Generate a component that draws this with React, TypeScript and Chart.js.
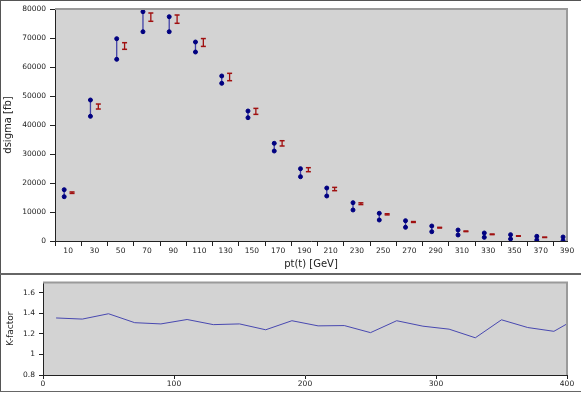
import React, { useEffect, useRef } from 'react';
import { Chart, registerables } from 'chart.js';

Chart.register(...registerables);

// ---- data ----
const ptBins = [10, 30, 50, 70, 90, 110, 130, 150, 170, 190, 210, 230, 250, 270, 290, 310, 330, 350, 370, 390];
const sigmaUpper = [17690, 48620, 69760, 79070, 77340, 68620, 56900, 44830, 33690, 24930, 18270, 13210, 9550, 7000, 5170, 3790, 2760, 2180, 1620, 1380];
const sigmaLower = [15280, 43000, 62650, 72170, 72170, 65170, 54370, 42520, 31030, 22170, 15520, 10690, 7240, 4720, 3210, 2070, 1260, 690, 340, 100];
const nloCentral = [16660, 46370, 67240, 77190, 76500, 68450, 56550, 44700, 33670, 24590, 17920, 12860, 9200, 6550, 4590, 3340, 2300, 1720, 1270, 900];
const nloError = [250, 860, 1140, 1430, 1430, 1350, 1270, 1030, 910, 690, 570, 300, 200, 150, 120, 100, 100, 80, 60, 50];
const xTickLabels = ['10', '30', '50', '70', '90', '110', '130', '150', '170', '190', '210', '230', '250', '270', '290', '310', '330', '350', '370', '390'];
const yTicksTop = [0, 10000, 20000, 30000, 40000, 50000, 60000, 70000, 80000];

const kPt = [10, 30, 50, 70, 90, 110, 130, 150, 170, 190, 210, 230, 250, 270, 290, 310, 330, 350, 370, 390, 410];
const kFactor = [1.355, 1.344, 1.396, 1.309, 1.297, 1.34, 1.29, 1.297, 1.24, 1.328, 1.278, 1.281, 1.212, 1.328, 1.275, 1.246, 1.162, 1.337, 1.262, 1.225, 1.37];
const kYTicks = [0.8, 1, 1.2, 1.4, 1.6];
const kXTicks = [0, 100, 200, 300, 400];

// style constants
const LO_SHIFT = -3;
const NLO_SHIFT = 3;
const FONT = 'DejaVu Sans';
const AXIS = '#222';

const plotFrame = {
  id: 'plotFrame',
  beforeDraw(chart: any) {
    const { ctx, chartArea } = chart;
    const { left, top, right, bottom } = chartArea;
    ctx.save();
    ctx.fillStyle = '#d3d3d3';
    ctx.fillRect(left, top, right - left, bottom - top);
    ctx.restore();
  },
  afterDatasetsDraw(chart: any) {
    const { ctx, chartArea } = chart;
    const { left, top, right, bottom } = chartArea;
    ctx.save();
    ctx.strokeStyle = '#9a9a9a';
    ctx.lineWidth = 2;
    ctx.beginPath();
    ctx.moveTo(left, top);
    ctx.lineTo(right, top);
    ctx.lineTo(right, bottom);
    ctx.stroke();
    ctx.restore();
  },
};

function TopChart() {
  const ref = useRef<HTMLCanvasElement>(null);
  useEffect(() => {
    const loData: any[] = [];
    const nloData: any[] = [];
    ptBins.forEach((pt, i) => {
      loData.push({ x: pt + LO_SHIFT, y: sigmaUpper[i] }, { x: pt + LO_SHIFT, y: sigmaLower[i] }, { x: pt + LO_SHIFT, y: null });
      nloData.push(
        { x: pt + NLO_SHIFT, y: nloCentral[i] + nloError[i] },
        { x: pt + NLO_SHIFT, y: nloCentral[i] - nloError[i] },
        { x: pt + NLO_SHIFT, y: null }
      );
    });
    const chart = new Chart(ref.current as HTMLCanvasElement, {
      type: 'line',
      data: {
        datasets: [
          {
            data: loData,
            borderColor: 'rgba(40,40,160,0.85)',
            borderWidth: 1.3,
            pointRadius: 2,
            pointBackgroundColor: '#000080',
            pointBorderColor: '#000080',
            pointBorderWidth: 1,
            spanGaps: false,
          },
          {
            data: nloData,
            borderColor: '#a01010',
            borderWidth: 1.3,
            pointStyle: 'line',
            pointRadius: 2.5,
            pointBorderColor: '#a01010',
            pointBorderWidth: 1.5,
            spanGaps: false,
          },
        ],
      },
      options: {
        animation: false,
        responsive: false,
        layout: { padding: { top: 9, right: 14, left: 0, bottom: 0 } },
        plugins: { legend: { display: false }, tooltip: { enabled: false } },
        scales: {
          x: {
            type: 'linear',
            min: 0,
            max: 390,
            afterBuildTicks: (s: any) => {
              const t: any[] = [];
              ptBins.forEach((pt) => {
                t.push({ value: pt - 10 });
                t.push({ value: pt });
              });
              s.ticks = t;
            },
            afterFit: (s: any) => {
              s.height = 33;
            },
            grid: {
              drawOnChartArea: false,
              drawTicks: true,
              tickLength: 5,
              tickColor: (ctx: any) => (ctx.tick && ctx.tick.value % 20 === 0 ? AXIS : 'rgba(0,0,0,0)'),
            },
            border: { display: true, color: AXIS, width: 1 },
            ticks: {
              autoSkip: false,
              maxRotation: 0,
              padding: 1,
              color: '#222',
              font: { family: FONT, size: 7.5 },
              callback: (v: any) => {
                const idx = ptBins.indexOf(Number(v));
                return idx >= 0 ? xTickLabels[idx] : '';
              },
            },
            title: {
              display: true,
              text: 'pt(t) [GeV]',
              color: '#222',
              font: { family: FONT, size: 10 },
              padding: { top: 0, bottom: 4 },
            },
          },
          y: {
            type: 'linear',
            min: 0,
            max: 80000,
            afterBuildTicks: (s: any) => {
              s.ticks = yTicksTop.map((v) => ({ value: v }));
            },
            afterFit: (s: any) => {
              s.width = 55;
            },
            grid: { drawOnChartArea: false, drawTicks: true, tickLength: 5, tickColor: AXIS },
            border: { display: true, color: AXIS, width: 1 },
            ticks: {
              padding: 4,
              color: '#222',
              font: { family: FONT, size: 7.5 },
              callback: (v: any) => String(v),
            },
            title: {
              display: true,
              text: 'dsigma [fb]',
              color: '#222',
              font: { family: FONT, size: 10 },
              padding: { top: 2, bottom: 0 },
            },
          },
        },
      },
      plugins: [plotFrame],
    });
    return () => chart.destroy();
  }, []);
  return <canvas ref={ref} width={581} height={274} style={{ position: 'absolute', left: 0, top: 0 }} />;
}

function BottomChart() {
  const ref = useRef<HTMLCanvasElement>(null);
  useEffect(() => {
    const chart = new Chart(ref.current as HTMLCanvasElement, {
      type: 'line',
      data: {
        datasets: [
          {
            data: kPt.map((x, i) => ({ x, y: kFactor[i] })),
            borderColor: '#4848b0',
            borderWidth: 1,
            pointRadius: 0,
            tension: 0,
          },
        ],
      },
      options: {
        animation: false,
        responsive: false,
        layout: { padding: { top: 5, right: 14, left: 0, bottom: 0 } },
        plugins: { legend: { display: false }, tooltip: { enabled: false } },
        scales: {
          x: {
            type: 'linear',
            min: 0,
            max: 400,
            afterBuildTicks: (s: any) => {
              s.ticks = kXTicks.map((v) => ({ value: v }));
            },
            afterFit: (s: any) => {
              s.height = 18;
            },
            grid: { drawOnChartArea: false, drawTicks: true, tickLength: 4, tickColor: AXIS },
            border: { display: true, color: AXIS, width: 1 },
            ticks: {
              autoSkip: false,
              maxRotation: 0,
              padding: 1,
              color: '#222',
              font: { family: FONT, size: 7.5 },
              callback: (v: any) => String(v),
            },
          },
          y: {
            type: 'linear',
            min: 0.8,
            max: 1.7,
            afterBuildTicks: (s: any) => {
              s.ticks = kYTicks.map((v) => ({ value: v }));
            },
            afterFit: (s: any) => {
              s.width = 43;
            },
            grid: { drawOnChartArea: false, drawTicks: true, tickLength: 4, tickColor: AXIS },
            border: { display: true, color: AXIS, width: 1 },
            ticks: {
              padding: 4,
              color: '#222',
              font: { family: FONT, size: 7.5 },
              callback: (v: any) => String(Math.round(Number(v) * 10) / 10),
            },
            title: {
              display: true,
              text: 'K-factor',
              color: '#222',
              font: { family: FONT, size: 9 },
              padding: { top: 5, bottom: 0 },
            },
          },
        },
      },
      plugins: [plotFrame],
    });
    return () => chart.destroy();
  }, []);
  return <canvas ref={ref} width={581} height={119} style={{ position: 'absolute', left: 0, top: 274 }} />;
}

export default function App() {
  useEffect(() => {
    document.body.style.margin = '0';
  }, []);
  return (
    <div style={{ position: 'relative', width: 581, height: 393, background: '#fff', overflow: 'hidden' }}>
      <TopChart />
      <BottomChart />
      <div style={{ position: 'absolute', left: 0, top: 0, width: 581, height: 1, background: '#555' }} />
      <div style={{ position: 'absolute', left: 0, top: 0, width: 1, height: 392, background: '#555' }} />
      <div style={{ position: 'absolute', left: 0, top: 273, width: 581, height: 2, background: '#666' }} />
      <div style={{ position: 'absolute', left: 0, top: 391, width: 581, height: 1, background: '#666' }} />
    </div>
  );
}
